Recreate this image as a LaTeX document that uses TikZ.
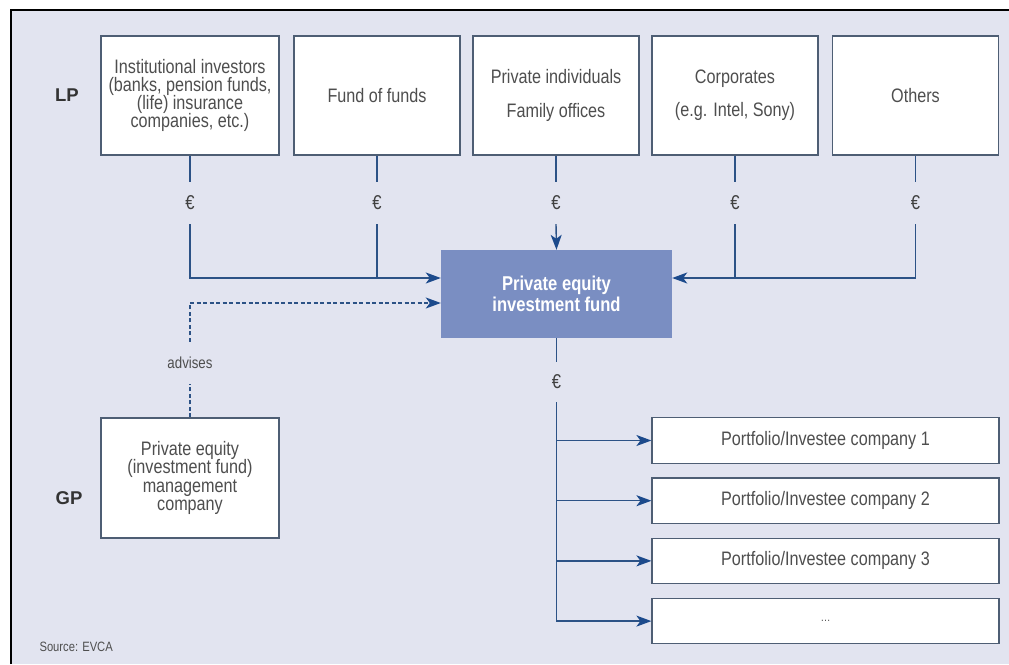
\documentclass[tikz,border=0pt]{standalone}
\usepackage{fontspec}
\setmainfont[FakeStretch=0.83]{Liberation Sans}
\newfontfamily\rolefont{Liberation Sans}
\usetikzlibrary{arrows.meta,calc,positioning}
\definecolor{panel}{RGB}{226,228,240}
\definecolor{boxline}{RGB}{78,94,116}
\definecolor{flowblue}{RGB}{44,82,134}
\definecolor{headblue}{RGB}{28,74,140}
\definecolor{fundfill}{RGB}{122,142,194}
\definecolor{txtgray}{RGB}{78,78,78}

\begin{document}
\begin{tikzpicture}[x=1pt,y=-1pt,
    party/.style={draw=boxline, line width=1.2pt, fill=white, align=center, text=txtgray,
      minimum width=166pt, minimum height=119pt, inner sep=2pt,
      font=\fontsize{19.5}{18.3}\selectfont},
    company/.style={party, minimum width=347pt, minimum height=45.5pt},
    fund/.style={fill=fundfill, text=white, align=center, minimum width=231pt, minimum height=88pt,
      font=\fontsize{20}{21}\selectfont\bfseries},
    euro/.style={inner sep=0pt, minimum height=42pt, text=black!75, font=\fontsize{20}{20}\selectfont},
    role/.style={text=black!80, font=\fontsize{18.5}{18.5}\rolefont\bfseries},
    link/.style={draw=flowblue, line width=1.4pt},
    flow/.style={link, -{Stealth[length=15pt,width=11pt,inset=4pt,color=headblue]}},
    advice/.style={flow, dash pattern=on 4pt off 2.5pt}
  ]
  % panel
  \useasboundingbox (0,0) rectangle (1009,664);
  \fill[panel] (11,10) rectangle (1009,664);
  \draw[line width=2.5pt] (11,664) -- (11,10) -- (1009,10);

  % limited partners
  \node[role] (lp) at (67,95) {LP};
  \node[party, minimum width=178pt] (inst) at (190,95.5) {Institutional investors\\(banks, pension funds,\\(life) insurance\\companies, etc.)};
  \node[party] (fof) at (377,95.5) {Fund of funds};
  \node[party] (priv) at (556,95.5) {Private individuals\\[15pt]Family offices};
  \node[party] (corp) at (735,95.5) {Corporates\\[15pt](e.g. Intel, Sony)};
  \node[party] (oth) at (915.5,95.5) {Others};

  \node[fund] (fund) at (556.5,294) {Private equity\\investment fund};
  \coordinate (inL) at ([yshift=16pt]fund.west);
  \coordinate (inR) at ([yshift=16pt]fund.east);
  \coordinate (inD) at ([yshift=-9pt]fund.west);

  \foreach \src/\e in {inst/e1, fof/e2, priv/e3, corp/e4, oth/e5} {
    \node[euro] (\e) at (\src.south |- 0,203) {€};
    \draw[link] (\src.south) -- (\e.north);
  }
  \draw[flow] (e1.south) |- (inL);
  \draw[link] (e2.south) -- (e2.south |- inL);
  \draw[flow] (e3.south) -- (fund.north);
  \draw[link] (e4.south) -- (e4.south |- inR);
  \draw[flow] (e5.south) |- (inR);

  % general partner
  \node[role] (gp) at (69,498) {GP};
  \node[party, minimum width=178pt, minimum height=120pt] (gpm) at (190,478) {Private equity\\(investment fund)\\management\\company};
  \node[text=txtgray, font=\fontsize{16}{16}\selectfont, minimum height=42pt, inner sep=0pt] (adv) at (190,363) {advises};
  \draw[advice, -] (gpm.north) -- (adv.south);
  \draw[advice] (adv.north) |- (inD);

  % portfolio companies
  \node[euro, minimum height=40pt] (e6) at (556.5,382) {€};
  \draw[link] (fund.south) -- (e6.north);
  \node[company] (pc1) at (825.5,440.5) {Portfolio/Investee company 1};
  \node[company, below=13.5pt of pc1] (pc2) {Portfolio/Investee company 2};
  \node[company, below=13.5pt of pc2] (pc3) {Portfolio/Investee company 3};
  \node[company, below=13.5pt of pc3] (pc4) {\fontsize{12}{12}\selectfont\dots};
  \draw[flow] (e6.south) |- (pc4.west);
  \foreach \i in {1,2,3}
    \draw[flow] (e6.south |- pc\i.west) -- (pc\i.west);

  \node[anchor=west, text=txtgray, font=\fontsize{13.5}{13.5}\selectfont] (src) at (36,647) {Source: EVCA};
\end{tikzpicture}
\end{document}
